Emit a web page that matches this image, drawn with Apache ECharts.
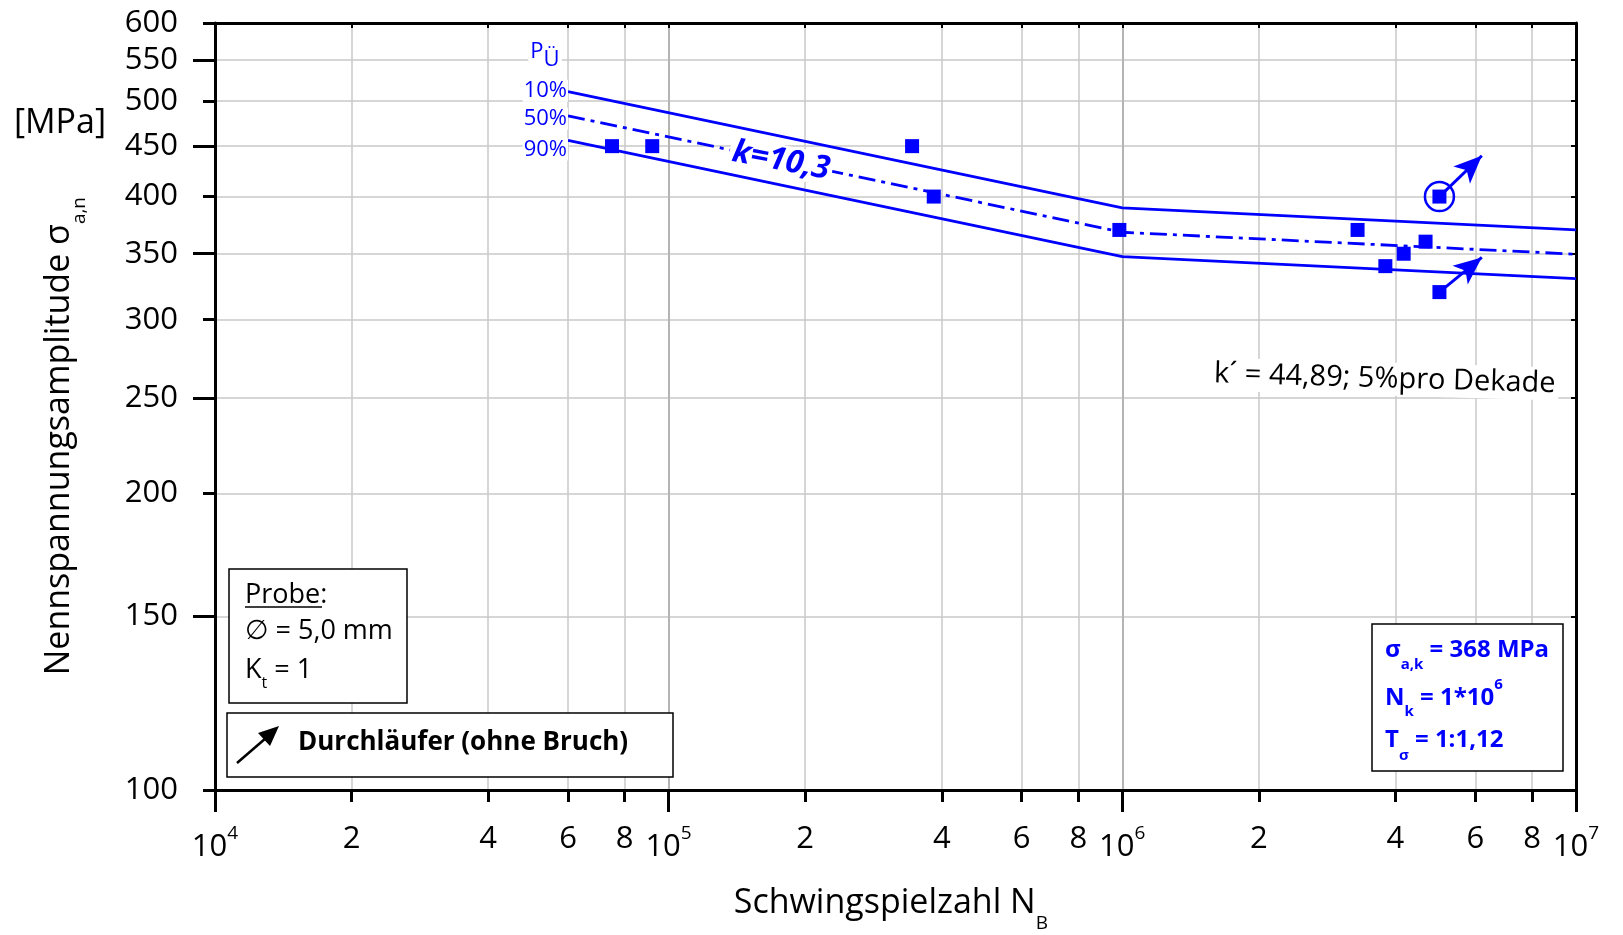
<!DOCTYPE html>
<html>
<head>
<meta charset="utf-8">
<script src="https://cdn.jsdelivr.net/npm/echarts@6/dist/echarts.min.js"></script>
<style>
  html, body { margin: 0; padding: 0; background: #fff; }
  #chart { width: 1623px; height: 935px; }
</style>
</head>
<body>
<div id="chart"></div>
<script>
const BLUE = '#0000ff';
const FONT = '"Open Sans", "DejaVu Sans", sans-serif';

// Wöhler lines for PÜ = 10 %, 50 %, 90 %: start, knee point N_k = 1e6, end of diagram
const curveN = [6e4, 1e6, 1e7];
const curve10 = [511, 389.5, 370];
const curve50 = [483, 368, 349.6];
const curve90 = [456, 347.7, 330.3];
const curveNames = ['10%', '50%', '90%'];

// specimens that failed
const failureN = [7.5e4, 9.2e4, 3.44e5, 3.84e5, 9.85e5, 3.3e6, 3.8e6, 4.17e6, 4.66e6];
const failureS = [450, 450, 450, 400, 370, 370, 340, 350, 360];

// run-outs (Durchläufer) with the arrow pointing to the next load level
const runoutN = [5e6, 5e6];
const runoutS = [400, 320];
const runoutArrowN = [6.2e6, 6.2e6];
const runoutArrowS = [440, 347];

// specimen marked with a circle
const circledN = [5e6];
const circledS = [400];

// axis ticks
const xDecades = [1e4, 1e5, 1e6, 1e7];
const xSubTicks = [2e4, 4e4, 6e4, 8e4, 2e5, 4e5, 6e5, 8e5, 2e6, 4e6, 6e6, 8e6];
const xLabelValues = [1e4, 2e4, 4e4, 6e4, 8e4, 1e5, 2e5, 4e5, 6e5, 8e5, 1e6, 2e6, 4e6, 6e6, 8e6, 1e7];
const yTicks = [100, 150, 200, 250, 300, 350, 400, 450, 500, 550, 600];
const yLongTicks = [150, 250, 350, 450, 550];

function xLabel(v) {
  const e = Math.round(Math.log10(v));
  if (Math.abs(v - Math.pow(10, e)) < 1e-6 * v) return '{b|10}{p|' + e + '}{h| }';
  return '{d|' + Math.round(v / Math.pow(10, Math.floor(Math.log10(v)))) + '}';
}

function pairs(xs, ys) { return xs.map((x, i) => [x, ys[i]]); }

function curveSeries(name, values, dash, offset) {
  return {
    type: 'line', name: name, xAxisIndex: 0, yAxisIndex: 0,
    data: curveN.map((n, i) => ({ value: [n, values[i]], label: { show: i === 0 } })),
    symbol: 'circle', symbolSize: 0.1, showSymbol: true, showAllSymbol: true,
    itemStyle: { color: BLUE },
    lineStyle: { color: BLUE, width: 2.8, type: dash },
    label: {
      show: false, position: 'left', distance: 0, offset: offset,
      formatter: () => name, color: BLUE, fontFamily: FONT, fontSize: 22,
      backgroundColor: '#fff', padding: [0, 1]
    },
    silent: true, animation: false, z: 3
  };
}

const gridLine = { show: true, lineStyle: { color: '#c8c8c8', width: 1.5 } };
const frameLine = { show: true, lineStyle: { color: '#000', width: 3 } };

const chart = echarts.init(document.getElementById('chart'), null, { renderer: 'canvas' });

chart.setOption({
  backgroundColor: '#fff',
  animation: false,
  textStyle: { fontFamily: FONT },
  grid: { left: 215, right: 47, top: 23, bottom: 145, containLabel: false, outerBoundsMode: 'none' },
  xAxis: [
    {
      type: 'log', logBase: 10, min: 1e4, max: 1e7, position: 'bottom',
      axisLine: frameLine,
      axisTick: { show: true, customValues: xSubTicks, length: 12, lineStyle: { color: '#000', width: 3 } },
      axisLabel: {
        customValues: xLabelValues, formatter: xLabel, margin: 34, color: '#000',
        showMinLabel: true, showMaxLabel: true, hideOverlap: false,
        rich: {
          b: { fontSize: 31, lineHeight: 31, verticalAlign: 'bottom', color: '#000', fontFamily: FONT },
          p: { fontSize: 19, lineHeight: 19, verticalAlign: 'top', color: '#000', fontFamily: FONT },
          h: { fontSize: 1, lineHeight: 39 },
          d: { fontSize: 31, lineHeight: 31, color: '#000', fontFamily: FONT }
        }
      },
      splitLine: gridLine,
      minorTick: { show: false }, minorSplitLine: { show: false }
    },
    {
      type: 'log', logBase: 10, min: 1e4, max: 1e7, position: 'bottom',
      axisLine: { show: false },
      axisTick: { show: true, customValues: xDecades, length: 22, lineStyle: { color: '#000', width: 3 } },
      axisLabel: { show: false },
      splitLine: { show: true, lineStyle: { color: '#b4b4b4', width: 2 } }
    },
    {
      type: 'log', logBase: 10, min: 1e4, max: 1e7, position: 'top',
      axisLine: frameLine,
      axisTick: { show: true, inside: true, customValues: xLabelValues, length: 5, lineStyle: { color: '#000', width: 2 } },
      axisLabel: { show: false },
      splitLine: { show: false }
    }
  ],
  yAxis: [
    {
      type: 'log', logBase: 10, min: 100, max: 600, position: 'left',
      axisLine: frameLine,
      axisTick: { show: true, customValues: yTicks, length: 12, lineStyle: { color: '#000', width: 3 } },
      axisLabel: {
        customValues: yTicks, margin: 37, color: '#000', fontSize: 31, fontFamily: FONT,
        showMinLabel: true, showMaxLabel: true
      },
      splitLine: gridLine,
      minorTick: { show: false }, minorSplitLine: { show: false }
    },
    {
      type: 'log', logBase: 10, min: 100, max: 600, position: 'left',
      axisLine: { show: false },
      axisTick: { show: true, customValues: yLongTicks, length: 22, lineStyle: { color: '#000', width: 3 } },
      axisLabel: { show: false },
      splitLine: { show: false }
    },
    {
      type: 'log', logBase: 10, min: 100, max: 600, position: 'right',
      axisLine: frameLine,
      axisTick: { show: true, inside: true, customValues: yTicks, length: 5, lineStyle: { color: '#000', width: 2 } },
      axisLabel: { show: false },
      splitLine: { show: false }
    }
  ],
  series: [
    curveSeries(curveNames[0], curve10, 'solid', [0, -1]),
    curveSeries(curveNames[1], curve50, [17, 6, 4, 6], [0, 3]),
    curveSeries(curveNames[2], curve90, 'solid', [0, 9]),
    {
      type: 'scatter', name: 'circled', xAxisIndex: 0, yAxisIndex: 0,
      data: pairs(circledN, circledS),
      symbol: 'circle', symbolSize: 29,
      itemStyle: { color: 'rgba(0,0,0,0)', borderColor: BLUE, borderWidth: 2.5, opacity: 1 },
      silent: true, z: 4
    },
    {
      type: 'scatter', name: 'Bruch', xAxisIndex: 0, yAxisIndex: 0,
      data: pairs(failureN, failureS),
      symbol: 'rect', symbolSize: 14, itemStyle: { color: BLUE, opacity: 1 },
      silent: true, z: 5
    },
    {
      type: 'scatter', name: 'Durchläufer', xAxisIndex: 0, yAxisIndex: 0,
      data: pairs(runoutN, runoutS),
      symbol: 'rect', symbolSize: 14, itemStyle: { color: BLUE, opacity: 1 },
      silent: true, z: 5,
      markLine: {
        silent: true, animation: false,
        symbol: ['none', 'arrow'], symbolSize: [18, 28],
        label: { show: false },
        emphasis: { disabled: true },
        lineStyle: { color: BLUE, width: 3, type: 'solid', opacity: 1 },
        data: runoutN.map((n, i) => [
          { coord: [n, runoutS[i]] },
          { coord: [runoutArrowN[i], runoutArrowS[i]] }
        ])
      }
    }
  ],
  graphic: {
    elements: [
      // axis titles
      {
        type: 'text', x: 66, y: 436, rotation: Math.PI / 2, z: 10,
        style: {
          text: '{m|Nennspannungsamplitude σ}{s|a,n}{h| }', align: 'center', verticalAlign: 'middle',
          rich: {
            m: { fontSize: 34, lineHeight: 34, verticalAlign: 'top', fill: '#000', fontFamily: FONT },
            s: { fontSize: 19, lineHeight: 19, verticalAlign: 'bottom', fill: '#000', fontFamily: FONT },
            h: { fontSize: 1, lineHeight: 47 }
          }
        }
      },
      {
        type: 'text', x: 60, y: 123, z: 10,
        style: { text: '[MPa]', fontSize: 34, fontFamily: FONT, fill: '#000', align: 'center', verticalAlign: 'middle' }
      },
      {
        type: 'text', x: 891, y: 910, z: 10,
        style: {
          text: '{m|Schwingspielzahl N}{s|B}{h| }', align: 'center', verticalAlign: 'middle',
          rich: {
            m: { fontSize: 34, lineHeight: 34, verticalAlign: 'top', fill: '#000', fontFamily: FONT },
            s: { fontSize: 19, lineHeight: 19, verticalAlign: 'bottom', fill: '#000', fontFamily: FONT },
            h: { fontSize: 1, lineHeight: 47 }
          }
        }
      },
      // PÜ heading above the percentage labels
      {
        type: 'text', x: 545, y: 56, z: 10,
        style: {
          text: '{m|P}{s|Ü}{h| }', align: 'center', verticalAlign: 'middle',
          backgroundColor: '#fff', padding: [0, 2],
          rich: {
            m: { fontSize: 22, lineHeight: 22, verticalAlign: 'top', fill: BLUE, fontFamily: FONT },
            s: { fontSize: 22, lineHeight: 22, verticalAlign: 'bottom', fill: BLUE, fontFamily: FONT },
            h: { fontSize: 1, lineHeight: 30 }
          }
        }
      },
      // slope annotations
      {
        type: 'text', x: 781, y: 161, rotation: -0.187, z: 10,
        style: {
          text: 'k=10,3', fontSize: 32, fontWeight: 'bold', fontStyle: 'italic', fontFamily: FONT,
          fill: BLUE, align: 'center', verticalAlign: 'middle', backgroundColor: '#fff', padding: [0, 3]
        }
      },
      {
        type: 'text', x: 1211, y: 374, rotation: -0.029, z: 10,
        style: {
          text: 'k´ = 44,89; 5%pro Dekade', fontSize: 29, fontFamily: FONT,
          fill: '#000', align: 'left', verticalAlign: 'middle', backgroundColor: '#fff', padding: [2, 3]
        }
      },
      // specimen box
      {
        type: 'rect', z: 10, shape: { x: 229, y: 569, width: 178, height: 134 },
        style: { fill: '#fff', stroke: '#000', lineWidth: 1.5 }
      },
      {
        type: 'text', x: 245, y: 595, z: 11,
        style: { text: 'Probe:', fontSize: 27, fontFamily: FONT, fill: '#000', align: 'left', verticalAlign: 'middle' }
      },
      {
        type: 'line', z: 11, shape: { x1: 245, y1: 607, x2: 322, y2: 607 },
        style: { stroke: '#000', lineWidth: 1.5 }
      },
      {
        type: 'text', x: 245, y: 631, z: 11,
        style: { text: '∅ = 5,0 mm', fontSize: 27, fontFamily: FONT, fill: '#000', align: 'left', verticalAlign: 'middle' }
      },
      {
        type: 'text', x: 245, y: 674, z: 11,
        style: {
          text: '{m|K}{s|t}{m| = 1}{h| }', align: 'left', verticalAlign: 'middle',
          rich: {
            m: { fontSize: 27, lineHeight: 27, verticalAlign: 'top', fill: '#000', fontFamily: FONT },
            s: { fontSize: 16, lineHeight: 16, verticalAlign: 'bottom', fill: '#000', fontFamily: FONT },
            h: { fontSize: 1, lineHeight: 35 }
          }
        }
      },
      // run-out legend
      {
        type: 'rect', z: 10, shape: { x: 227, y: 713, width: 446, height: 64 },
        style: { fill: '#fff', stroke: '#000', lineWidth: 1.5 }
      },
      {
        type: 'line', z: 11, shape: { x1: 237, y1: 763, x2: 266, y2: 738 },
        style: { stroke: '#000', lineWidth: 2.5 }
      },
      {
        type: 'polygon', z: 11, shape: { points: [[279, 726], [270, 746], [258, 733]] },
        style: { fill: '#000' }
      },
      {
        type: 'text', x: 298, y: 743, z: 11,
        style: { text: 'Durchläufer (ohne Bruch)', fontSize: 26, fontWeight: 'bold', fontFamily: FONT, fill: '#000', align: 'left', verticalAlign: 'middle' }
      },
      // characteristic values
      {
        type: 'rect', z: 10, shape: { x: 1372, y: 624, width: 191, height: 147 },
        style: { fill: '#fff', stroke: '#000', lineWidth: 1.5 }
      },
      {
        type: 'text', x: 1385, y: 655, z: 11,
        style: {
          text: '{m|σ}{s|a,k}{m| = 368 MPa}{h| }', align: 'left', verticalAlign: 'middle',
          rich: {
            m: { fontSize: 24, lineHeight: 24, verticalAlign: 'top', fill: BLUE, fontWeight: 'bold', fontFamily: FONT },
            s: { fontSize: 15, lineHeight: 15, verticalAlign: 'bottom', fill: BLUE, fontWeight: 'bold', fontFamily: FONT },
            h: { fontSize: 1, lineHeight: 34 }
          }
        }
      },
      {
        type: 'text', x: 1385, y: 698, z: 11,
        style: {
          text: '{m|N}{s|k}{m| = 1*10}{p|6}{h| }', align: 'left', verticalAlign: 'middle',
          rich: {
            m: { fontSize: 24, lineHeight: 24, fill: BLUE, fontWeight: 'bold', fontFamily: FONT },
            s: { fontSize: 15, lineHeight: 15, verticalAlign: 'bottom', fill: BLUE, fontWeight: 'bold', fontFamily: FONT },
            p: { fontSize: 15, lineHeight: 15, verticalAlign: 'top', fill: BLUE, fontWeight: 'bold', fontFamily: FONT },
            h: { fontSize: 1, lineHeight: 42 }
          }
        }
      },
      {
        type: 'text', x: 1385, y: 746, z: 11,
        style: {
          text: '{m|T}{s|σ}{m| = 1:1,12}{h| }', align: 'left', verticalAlign: 'middle',
          rich: {
            m: { fontSize: 24, lineHeight: 24, verticalAlign: 'top', fill: BLUE, fontWeight: 'bold', fontFamily: FONT },
            s: { fontSize: 15, lineHeight: 15, verticalAlign: 'bottom', fill: BLUE, fontWeight: 'bold', fontFamily: FONT },
            h: { fontSize: 1, lineHeight: 35 }
          }
        }
      }
    ]
  }
});
</script>
</body>
</html>
